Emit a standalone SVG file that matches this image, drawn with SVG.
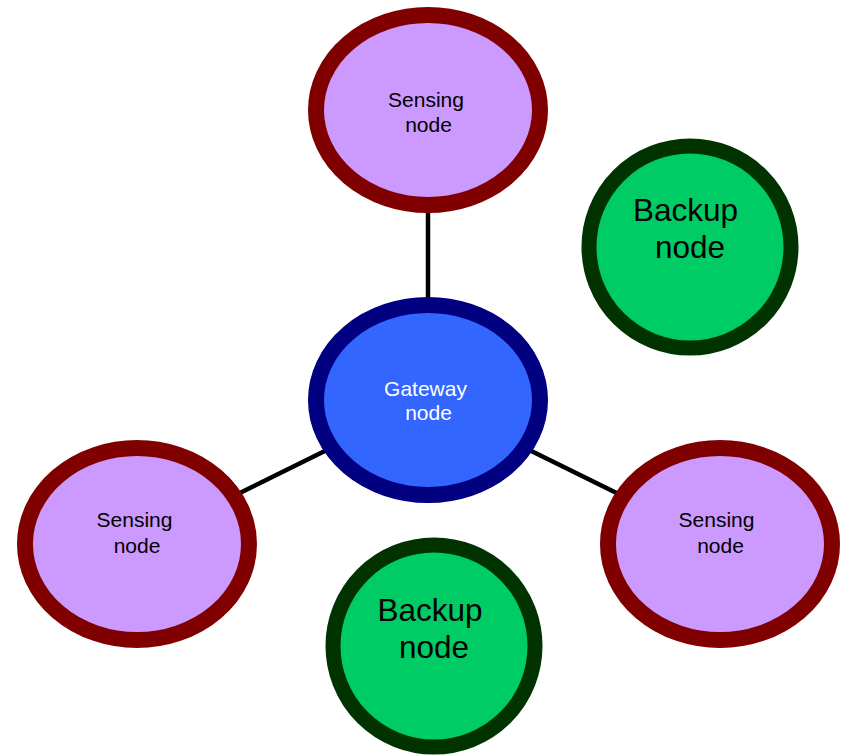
<svg xmlns="http://www.w3.org/2000/svg" width="844" height="755" viewBox="0 0 844 755">
<style>
.sense{fill:#CC99FF;stroke:#800000;stroke-width:16}
.gw{fill:#3366FF;stroke:#000080;stroke-width:16}
.bk{fill:#00CC66;stroke:#003300;stroke-width:15}
.t{font-family:"Liberation Sans",Arial,sans-serif;text-anchor:middle}
.ts{font-size:21px;fill:#000}
.tg{font-size:21px;fill:#fff}
.tb{font-size:31.5px;fill:#000}
.edge{stroke:#000;stroke-width:4.5;fill:none}
</style>
<rect width="844" height="755" fill="#fff"/>
<g id="connectors">
<line class="edge" x1="428" y1="400" x2="428" y2="110"/>
<line class="edge" x1="428" y1="400" x2="137" y2="544"/>
<line class="edge" x1="428" y1="400" x2="720" y2="544"/>
</g>
<g id="sensing-top">
<ellipse class="sense" cx="428" cy="110" rx="112" ry="95"/>
<text class="t ts" x="426" y="107">Sensing</text>
<text class="t ts" x="428.5" y="132">node</text>
</g>
<g id="gateway">
<ellipse class="gw" cx="428" cy="400" rx="112" ry="95"/>
<text class="t tg" x="425.5" y="396">Gateway</text>
<text class="t tg" x="428.5" y="420">node</text>
</g>
<g id="sensing-left">
<ellipse class="sense" cx="137" cy="544" rx="112" ry="96"/>
<text class="t ts" x="134.5" y="527">Sensing</text>
<text class="t ts" x="137" y="553">node</text>
</g>
<g id="sensing-right">
<ellipse class="sense" cx="720" cy="544" rx="112" ry="96"/>
<text class="t ts" x="716.5" y="527">Sensing</text>
<text class="t ts" x="720.5" y="553">node</text>
</g>
<g id="backup-top">
<circle class="bk" cx="690" cy="247" r="101"/>
<text class="t tb" x="685.5" y="221">Backup</text>
<text class="t tb" x="690" y="258">node</text>
</g>
<g id="backup-bottom">
<circle class="bk" cx="434" cy="646" r="101"/>
<text class="t tb" x="430" y="621">Backup</text>
<text class="t tb" x="434" y="658">node</text>
</g>
</svg>
